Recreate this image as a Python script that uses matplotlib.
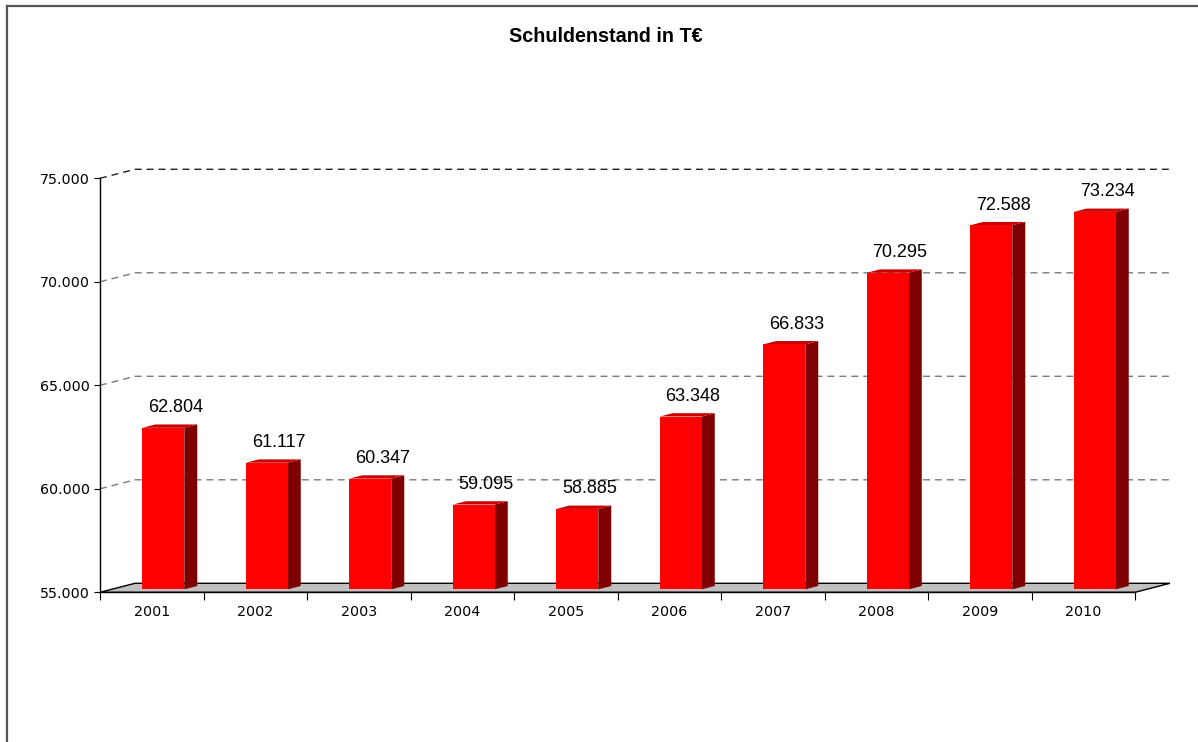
import matplotlib
matplotlib.use("Agg")
import matplotlib.pyplot as plt
from matplotlib.patches import Polygon, Rectangle
from matplotlib.lines import Line2D

years = ["2001", "2002", "2003", "2004", "2005", "2006", "2007", "2008", "2009", "2010"]
debt = [62804, 61117, 60347, 59095, 58885, 63348, 66833, 70295, 72588, 73234]
value_labels = ["62.804", "61.117", "60.347", "59.095", "58.885",
                "63.348", "66.833", "70.295", "72.588", "73.234"]
yticks = [55000, 60000, 65000, 70000, 75000]
ytick_labels = ["55.000", "60.000", "65.000", "70.000", "75.000"]
title = "Schuldenstand in T€"

# pseudo-3d depth, expressed in data units (category units / value units)
DX = 0.338
DY = 435
ymin, ymax = 55000, 75000
front_d, back_d = 0.33, 0.70
half_w = 0.203

fig = plt.figure(figsize=(11.98, 7.42), dpi=100)
ax = fig.add_axes([100 / 1198, (742 - 592.3) / 742, 1035 / 1198, 414 / 742])
ax.set_xlim(-0.5, len(years) - 0.5)
ax.set_ylim(ymin, ymax)
ax.patch.set_visible(False)

for s in ["top", "right"]:
    ax.spines[s].set_visible(False)
ax.spines["left"].set_color("black")
ax.spines["bottom"].set_color("black")
ax.spines["left"].set_linewidth(1)
ax.spines["bottom"].set_linewidth(1)

ax.set_yticks(yticks)
ax.set_yticklabels(ytick_labels, fontsize=10.3, family="DejaVu Sans")
ax.tick_params(axis="y", direction="out", length=4.3, width=0.8, pad=3)

x0, x1 = ax.get_xlim()
ax.set_xticks([x0 + k for k in range(len(years) + 1)])
ax.set_xticklabels([])
ax.tick_params(axis="x", which="major", direction="out", length=5.8, width=0.8)
ax.set_xticks(range(len(years)), minor=True)
ax.set_xticklabels(years, minor=True, fontsize=10.3, family="DejaVu Sans")
ax.tick_params(axis="x", which="minor", length=0, pad=9)

# floor
floor = Polygon([(x0, ymin), (x0 + DX, ymin + DY), (x1 + DX, ymin + DY), (x1, ymin)],
                closed=True, facecolor="#c0c0c0", edgecolor="black", lw=1,
                clip_on=False, zorder=1)
ax.add_patch(floor)

# gridlines on back wall with slanted lead-in
for t in yticks[1:]:
    col = "#222222" if t == ymax else "#7a7a7a"
    ax.plot([x0, x0 + DX, x1 + DX], [t, t + DY, t + DY], color=col, lw=1,
            linestyle=(0, (5, 3.6)), clip_on=False, zorder=0.5)

# bars
ddx = (back_d - front_d) * DX
ddy = (back_d - front_d) * DY
for i, v in enumerate(debt):
    bx0 = i - half_w + front_d * DX
    bx1 = i + half_w + front_d * DX
    by0 = ymin + front_d * DY
    by1 = v + front_d * DY
    ax.add_patch(Polygon([(bx1, by0), (bx1 + ddx, by0 + ddy), (bx1 + ddx, by1 + ddy), (bx1, by1)],
                         closed=True, facecolor="#7f0000", edgecolor="none", clip_on=False, zorder=3))
    ax.add_patch(Polygon([(bx0, by1), (bx1, by1), (bx1 + ddx, by1 + ddy), (bx0 + ddx, by1 + ddy)],
                         closed=True, facecolor="#c80000", edgecolor="none", clip_on=False, zorder=3))
    ax.add_patch(Rectangle((bx0, by0), bx1 - bx0, by1 - by0, facecolor="#ff0000",
                           edgecolor="none", clip_on=False, zorder=4))
    ax.annotate(value_labels[i], xy=(i + 0.23, by1), xytext=(0, 14.5), textcoords="offset points",
                ha="center", va="center", fontsize=13, family="Liberation Sans",
                annotation_clip=False, zorder=5)

fig.text(606 / 1198, 1 - 37 / 742, title, ha="center", va="center",
         fontsize=14.2, fontweight="bold", family="Liberation Sans")

# outer frame (top and left only)
fig.add_artist(Line2D([6.5 / 1198, 1], [1 - 5.5 / 742, 1 - 5.5 / 742], color="#555555", lw=1.6))
fig.add_artist(Line2D([6.5 / 1198, 6.5 / 1198], [0, 1 - 5.5 / 742], color="#555555", lw=1.6))

fig.savefig("out.png", dpi=100)
